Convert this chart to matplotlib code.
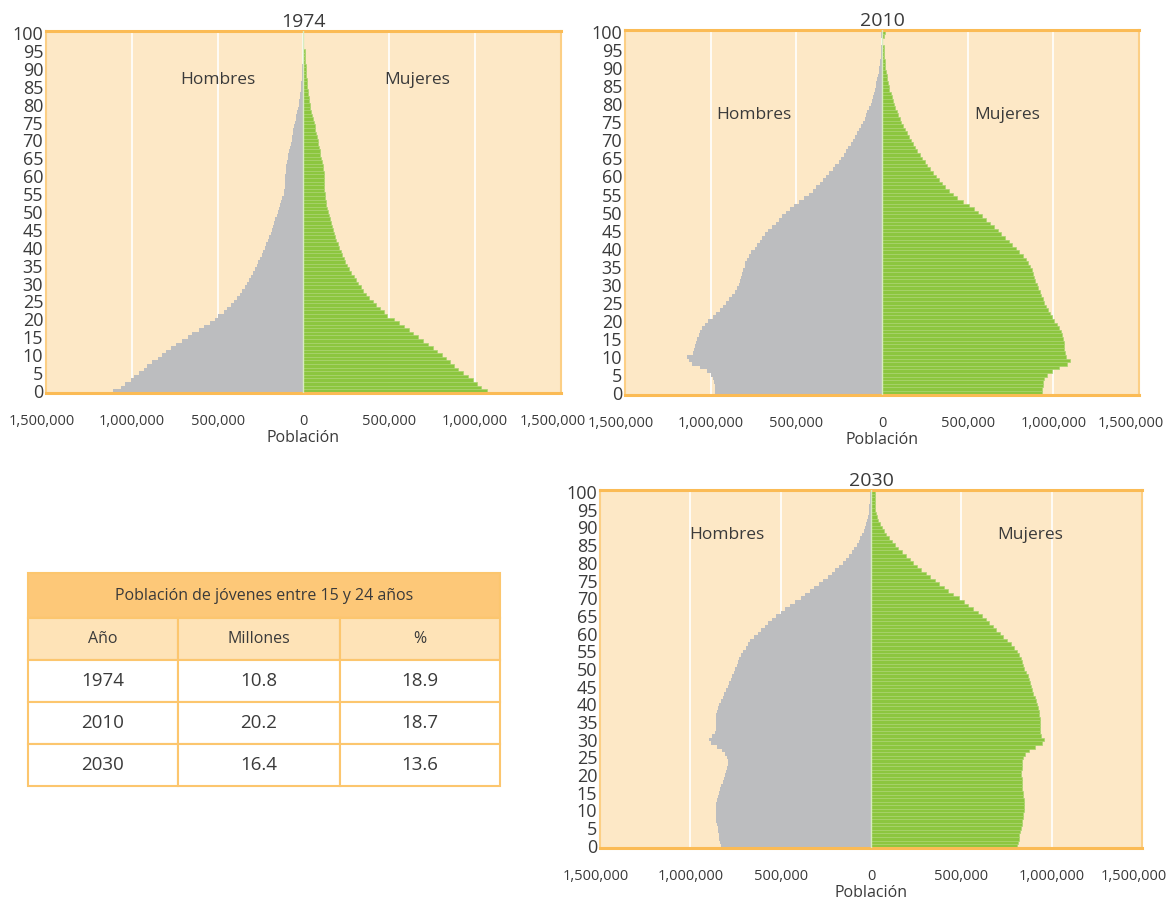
# Pirámides de población 1974, 2010 y 2030 + tabla de jóvenes

import numpy as np
import matplotlib.pyplot as plt
import matplotlib.transforms as mtrans
from matplotlib.patches import Rectangle
from matplotlib.ticker import FuncFormatter

plt.rcParams['font.family'] = ['Open Sans', 'DejaVu Sans']
text_color = "#3a3a3a"

# Datos (miles de personas por edad simple, 0 a 100)

ages = np.arange(101)

hombres_1974 = [1110, 1065, 1040, 1005, 985, 955, 930, 910, 880, 850,
                825, 800, 770, 740, 710, 675, 650, 610, 580, 545,
                515, 495, 465, 447, 424, 405, 387, 370, 355, 342,
                327, 316, 305, 292, 282, 271, 262, 252, 243, 234,
                226, 217, 209, 200, 191, 183, 176, 170, 163, 155,
                148, 142, 135, 129, 123, 114, 112, 110, 108, 105,
                105, 103, 101, 99, 95, 90, 88, 84, 80, 73,
                69, 67, 62, 58, 54, 49, 45, 41, 37, 32,
                28, 26, 22, 19, 17, 15, 13, 11, 10, 8,
                7, 6, 5, 4, 4, 3, 0, 0, 0, 0, 0]
mujeres_1974 = [1070, 1036, 1010, 985, 957, 930, 903, 877, 854, 832,
                806, 778, 753, 725, 697, 669, 641, 613, 585, 555,
                527, 486, 469, 447, 421, 404, 383, 366, 348, 333,
                318, 305, 292, 280, 267, 256, 245, 234, 226, 217,
                209, 200, 191, 185, 178, 172, 166, 159, 153, 148,
                142, 138, 133, 129, 125, 123, 120, 120, 120, 120,
                120, 118, 116, 112, 108, 103, 99, 95, 90, 86,
                82, 77, 73, 69, 65, 60, 54, 49, 45, 41,
                37, 32, 30, 26, 24, 22, 20, 18, 17, 15,
                14, 13, 12, 11, 10, 10, 0, 0, 0, 0, 0]

hombres_2010 = [974, 974, 976, 978, 985, 996, 1020, 1060, 1110, 1125,
                1137, 1104, 1098, 1091, 1085, 1078, 1070, 1060, 1048, 1033,
                1017, 989, 967, 948, 930, 913, 896, 876, 859, 848,
                837, 828, 822, 815, 809, 802, 798, 791, 778, 763,
                743, 728, 715, 700, 683, 663, 641, 620, 602, 583,
                563, 539, 513, 485, 457, 426, 404, 383, 365, 346,
                326, 309, 289, 272, 254, 239, 224, 209, 196, 183,
                170, 157, 146, 135, 124, 113, 102, 93, 85, 76,
                67, 61, 54, 48, 41, 37, 33, 28, 24, 20,
                15, 13, 11, 9, 7, 5, 4, 0, 0, 6, 8]
mujeres_2010 = [935, 935, 937, 939, 943, 961, 993, 1030, 1080, 1096,
                1074, 1065, 1063, 1061, 1059, 1057, 1052, 1043, 1033, 1020,
                1004, 991, 980, 970, 959, 948, 939, 928, 920, 911,
                902, 893, 887, 880, 874, 865, 854, 841, 820, 798,
                783, 761, 739, 717, 696, 674, 652, 630, 609, 585,
                561, 535, 509, 474, 439, 413, 391, 370, 352, 335,
                315, 298, 280, 265, 250, 235, 220, 204, 191, 178,
                167, 157, 146, 135, 124, 113, 104, 96, 87, 78,
                70, 63, 57, 50, 43, 39, 35, 30, 26, 22,
                20, 18, 16, 14, 12, 10, 9, 0, 0, 14, 16]

hombres_2030 = [831, 835, 839, 844, 846, 850, 855, 857, 859, 861,
                861, 861, 859, 855, 848, 842, 835, 829, 822, 816,
                809, 803, 796, 792, 792, 798, 809, 824, 855, 885,
                898, 879, 863, 861, 861, 859, 857, 857, 852, 846,
                839, 831, 822, 813, 805, 794, 785, 777, 768, 759,
                751, 742, 735, 729, 720, 707, 694, 681, 668, 646,
                625, 607, 588, 570, 551, 525, 501, 477, 451, 421,
                390, 364, 338, 315, 291, 267, 241, 219, 197, 178,
                158, 141, 124, 108, 93, 80, 69, 59, 50, 41,
                33, 26, 22, 17, 13, 11, 9, 7, 5, 5, 7]
mujeres_2030 = [807, 811, 816, 820, 824, 829, 833, 837, 839, 842,
                844, 844, 844, 844, 842, 839, 837, 835, 833, 833,
                831, 831, 833, 835, 837, 842, 850, 872, 905, 944,
                959, 941, 933, 933, 933, 933, 933, 931, 928, 924,
                918, 911, 905, 898, 892, 885, 879, 872, 866, 857,
                848, 842, 835, 829, 820, 807, 792, 774, 753, 731,
                711, 692, 672, 655, 638, 616, 590, 564, 538, 514,
                486, 456, 427, 403, 377, 351, 325, 304, 278, 256,
                234, 213, 191, 169, 148, 130, 113, 98, 82, 69,
                59, 48, 39, 33, 28, 24, 22, 20, 20, 22, 22]

# Etiquetas Hombres / Mujeres: (x en millones, edad)
label_pos = {"1974": ((-0.5, 87), (0.66, 87)),
             "2010": ((-0.75, 77), (0.73, 77)),
             "2030": ((-0.8, 88), (0.88, 88))}

# Tabla
tabla_titulo = "Población de jóvenes entre 15 y 24 años"
tabla_cols = ["Año", "Millones", "%"]
tabla_anios = ["1974", "2010", "2030"]
tabla_millones = ["10.8", "20.2", "16.4"]
tabla_pct = ["18.9", "18.7", "13.6"]

# Figure

fig = plt.figure(figsize=(11.72, 9.05), dpi=100)

panels = [("1974", hombres_1974, mujeres_1974, [0.0392, 0.5657, 0.4394, 0.4000]),
          ("2010", hombres_2010, mujeres_2010, [0.5333, 0.5635, 0.4386, 0.4033]),
          ("2030", hombres_2030, mujeres_2030, [0.5120, 0.0630, 0.4625, 0.3956])]

fmt = FuncFormatter(lambda v, p: "{:,.0f}".format(abs(v)))

for year, men, women, rect in panels:
    ax = fig.add_axes(rect)
    ax.set_facecolor("#fde8c6")
    men = np.array(men) * 1000
    women = np.array(women) * 1000
    ax.barh(ages, -men, height=1.0, color="#bcbdbf", linewidth=0, zorder=2)
    ax.barh(ages, women, height=1.0, color="#8cc63f", edgecolor="#a9d46e",
            linewidth=0.5, zorder=2)
    ax.axvline(0, color="#d8ecc0", linewidth=1.0, zorder=3)
    ax.set_xlim(-1500000, 1500000)
    ax.set_ylim(-0.6, 100.6)
    ax.set_xticks([-1500000, -1000000, -500000, 0, 500000, 1000000, 1500000])
    ax.set_yticks(range(0, 101, 5))
    ax.xaxis.set_major_formatter(fmt)
    ax.grid(axis="x", color="white", linewidth=1.2, zorder=1)
    ax.set_axisbelow(True)
    ax.tick_params(axis="x", length=0, pad=15, labelsize=10.5, labelcolor=text_color)
    ax.tick_params(axis="y", length=0, pad=2, labelsize=13, labelcolor=text_color)
    # nudge the outer labels inward a little, as in the original layout
    labels = ax.get_xticklabels()
    labels[0].set_transform(labels[0].get_transform() +
                            mtrans.ScaledTranslation(-4 / 100, 0, fig.dpi_scale_trans))
    labels[-1].set_transform(labels[-1].get_transform() +
                             mtrans.ScaledTranslation(-8 / 100, 0, fig.dpi_scale_trans))
    for s in ["top", "bottom"]:
        ax.spines[s].set_color("#fbbb55")
        ax.spines[s].set_linewidth(2.2)
    for s in ["left", "right"]:
        ax.spines[s].set_color("#fccf85")
        ax.spines[s].set_linewidth(1.5)
    ax.set_title(year, fontsize=14, color=text_color, pad=3)
    ax.set_xlabel("Población", fontsize=11.5, color=text_color, labelpad=1)
    (hx, hy), (mx, my) = label_pos[year]
    ax.text(hx * 1e6, hy, "Hombres", ha="center", va="center", fontsize=12.5,
            color=text_color, zorder=4)
    ax.text(mx * 1e6, my, "Mujeres", ha="center", va="center", fontsize=12.5,
            color=text_color, zorder=4)

# Tabla dibujada a mano

tax = fig.add_axes([28 / 1172, 1 - 786 / 905, 472 / 1172, 213 / 905])
tax.set_xlim(0, 472)
tax.set_ylim(213, 0)
tax.axis("off")

edge = "#fcc66e"
col_x = [0, 150, 312, 472]
row_y = [0, 45, 87, 129, 171, 213]

tax.add_patch(Rectangle((0, 0), 472, 45, facecolor="#fdc878", edgecolor=edge,
                        linewidth=1.5, clip_on=False))
tax.text(236, 23, tabla_titulo, ha="center", va="center", fontsize=11.5, color=text_color)

rows = [tabla_cols] + [list(r) for r in zip(tabla_anios, tabla_millones, tabla_pct)]
for i, row in enumerate(rows):
    y0, y1 = row_y[i + 1], row_y[i + 2]
    fc = "#fee3b7" if i == 0 else "white"
    for j, val in enumerate(row):
        x0, x1 = col_x[j], col_x[j + 1]
        tax.add_patch(Rectangle((x0, y0), x1 - x0, y1 - y0, facecolor=fc,
                                edgecolor=edge, linewidth=1.5, clip_on=False))
        tax.text((x0 + x1) / 2, (y0 + y1) / 2, val, ha="center", va="center",
                 fontsize=11.5 if i == 0 else 13.5, color=text_color)

plt.savefig("out.png", dpi=100)
